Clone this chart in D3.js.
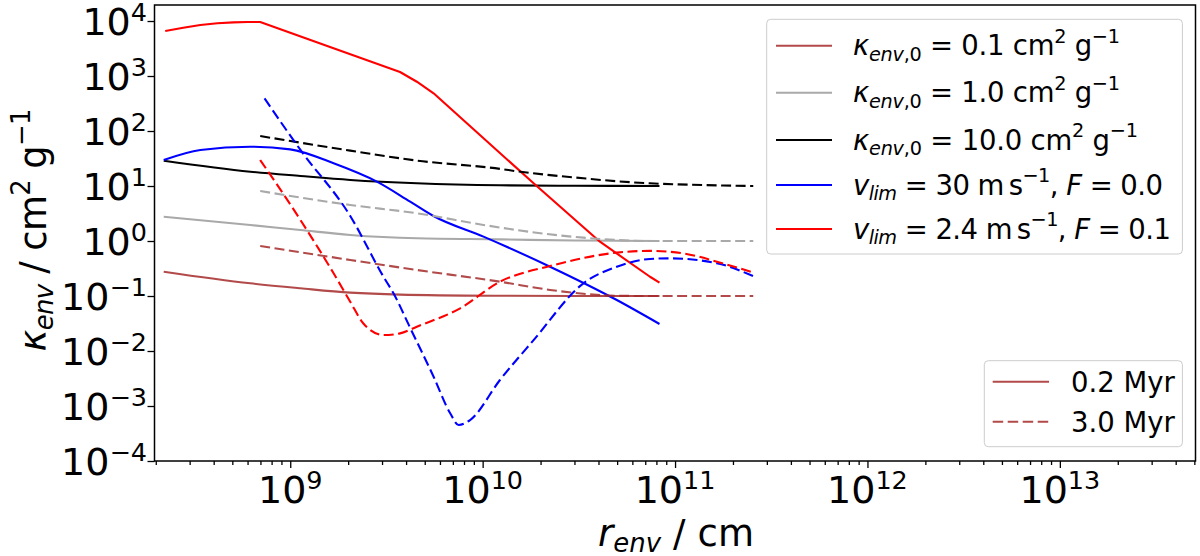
<!DOCTYPE html>
<html><head><meta charset="utf-8">
<script src="https://cdn.jsdelivr.net/npm/d3@7"></script>
<style>
body{margin:0;background:#fff}
svg{display:block}
text{font-family:"DejaVu Sans",sans-serif;fill:#000}
</style>
</head><body>
<svg id="chart" width="1200" height="556"></svg>
<script>
// ---------- data (r in cm, kappa in cm^2 g^-1) ----------
const xTickExponents = [9, 10, 11, 12, 13];
const yTickExponents = [-4, -3, -2, -1, 0, 1, 2, 3, 4];

// 0.2 Myr (solid)
const kappa01Young = [[2.2e8,0.277],[6.2e8,0.17],[1.13e9,0.138],[2.05e9,0.115],[3.72e9,0.106],[1.23e10,0.101],[3e10,0.1],[8.3e10,0.1]];
const kappa1Young  = [[2.2e8,2.77],[6.2e8,1.95],[1.13e9,1.58],[2.05e9,1.29],[4.55e9,1.12],[1.23e10,1.07],[3e10,1.02],[8.3e10,1.0]];
const kappa10Young = [[2.2e8,28.8],[6.2e8,18.2],[1.13e9,15.2],[2.05e9,12.9],[4.55e9,11.2],[1.23e10,10.3],[3e10,10.1],[8.3e10,10.0]];
const vlim30Young  = [[2.2e8,29.7],[3.41e8,45.2],[6.2e8,51.9],[1.0e9,46.4],[1.68e9,25.9],[2.82e9,12.0],[4.2e9,5.19],[5.55e9,2.85],[1.01e10,1.2],[2.24e10,0.341],[4.98e10,0.0845],[8.3e10,0.031]];
const vlim24Young  = [[2.24e8,6580],[2.78e8,7550],[3.41e8,8450],[4.18e8,9080],[5.07e8,9460],[5.98e8,9590],[6.98e8,9590],[1.61e9,3360],[3.72e9,1183],[4.55e9,787],[5.56e9,484],[8.28e9,138],[1.84e10,11.2],[4.07e10,0.97],[7.41e10,0.224],[8.3e10,0.175]];

// 3.0 Myr (dashed)
const kappa01Old = [[6.98e8,0.81],[2.05e9,0.452],[4.55e9,0.297],[1.23e10,0.182],[2.24e10,0.129],[3.34e10,0.11],[4.98e10,0.101],[7.41e10,0.1],[2.55e11,0.1]];
const kappa1Old  = [[6.98e8,8.1],[2.05e9,4.52],[4.55e9,3.19],[1.01e10,1.96],[1.51e10,1.58],[3.34e10,1.15],[7.41e10,1.0],[2.55e11,1.0]];
const kappa10Old = [[6.98e8,81],[2.05e9,44],[4.55e9,29],[1.23e10,20.5],[1.51e10,18.5],[3.34e10,13.8],[4.98e10,12.2],[7.41e10,11.2],[1.4e11,10.4],[2.55e11,10]];
const vlim30Old  = [[7.35e8,393],[1.13e9,45.2],[2.05e9,2.85],[3.05e9,0.225],[3.44e9,0.112],[4.21e9,0.0259],[5.56e9,3.41e-3],[6.78e9,7.36e-4],[7.5e9,4.52e-4],[8.6e9,5.56e-4],[1.23e10,2.97e-3],[1.84e10,0.0158],[3.34e10,0.170],[4.98e10,0.341],[7.41e10,0.471],[9.42e10,0.484],[1.65e11,0.394],[2.55e11,0.23]];
const vlim24Old  = [[6.98e8,29.7],[1.13e9,2.41],[1.68e9,0.259],[2.05e9,0.0787],[2.4e9,0.0316],[3.05e9,0.0195],[3.72e9,0.0209],[4.55e9,0.0277],[7.64e9,0.0597],[1.23e10,0.182],[2.24e10,0.351],[4.98e10,0.614],[7.41e10,0.661],[1.1e11,0.597],[1.65e11,0.421],[2.55e11,0.266]];

const seriesColors = ["#a52a2a","#a9a9a9","#000000","#0000ff","#ff0000"];
const youngSeries = [kappa01Young, kappa1Young, kappa10Young, vlim30Young, vlim24Young];
const oldSeries   = [kappa01Old, kappa1Old, kappa10Old, vlim30Old, vlim24Old];

// ---------- layout ----------
const L = 154.5, R = 1195.5, T = 5, B = 461;
const svg = d3.select("#chart");
const x = d3.scaleLog().domain([1.97e8, 5.07e13]).range([L, R]);
const y = d3.scaleLog().domain([1e-4, 1.955e4]).range([B, T]);

function rich(sel, parts, size, supShift, subShift, scr) {
  scr = scr || 0.7;
  let cur = 0;
  parts.forEach(p => {
    const target = p.k === 'sub' ? subShift * size : (p.k === 'sup' ? -supShift * size : 0);
    const ts = sel.append('tspan').attr('dy', (target - cur).toFixed(2)).text(p.t)
      .attr('font-size', p.k ? size * scr : size);
    if (p.i) ts.attr('font-style', 'italic');
    cur = target;
  });
  return sel;
}

// ---------- axes ticks ----------
const xMajor = xTickExponents.map(e => Math.pow(10, e));
const xMinor = [];
for (let e = 8; e <= 13; e++) for (let m = 2; m <= 9; m++) {
  const v = m * Math.pow(10, e);
  if (v > x.domain()[0] && v < x.domain()[1]) xMinor.push(v);
}
const yMajor = yTickExponents.map(e => Math.pow(10, e));

const gx = svg.append('g').attr('transform', `translate(0,${B})`);
gx.call(d3.axisBottom(x).tickValues(xMinor).tickSize(4).tickFormat(''));
gx.append('g').call(d3.axisBottom(x).tickValues(xMajor).tickSize(7).tickFormat(''));
const gy = svg.append('g').attr('transform', `translate(${L},0)`);
gy.call(d3.axisLeft(y).tickValues(yMajor).tickSize(7).tickFormat(''));
svg.selectAll('.domain').remove();
svg.selectAll('.tick line').attr('stroke', '#000').attr('stroke-width', 1.3);

const TF = 38;
xTickExponents.forEach(e => {
  const t = svg.append('text').attr('x', x(Math.pow(10, e))).attr('y', 503).attr('text-anchor', 'middle');
  rich(t, [{t:'10'}, {t:String(e), k:'sup'}], TF, 0.36, 0.2, 0.67);
});
yTickExponents.forEach(e => {
  const t = svg.append('text').attr('x', 147).attr('y', y(Math.pow(10, e)) + 14).attr('text-anchor', 'end');
  rich(t, [{t:'10'}, {t:(e < 0 ? '\u2212' + (-e) : String(e)), k:'sup'}], TF, 0.36, 0.2, 0.67);
});

// axis labels
const xl = svg.append('text').attr('x', 676).attr('y', 546).attr('text-anchor', 'middle')
  .attr('textLength', 156).attr('lengthAdjust', 'spacing');
rich(xl, [{t:'r', i:1}, {t:'env', k:'sub', i:1}, {t:' / cm'}], 37, 0.4, 0.17);
const yl = svg.append('text').attr('transform', `translate(46,230) rotate(-90)`).attr('text-anchor', 'middle')
  .attr('textLength', 243).attr('lengthAdjust', 'spacing');
rich(yl, [{t:'\u03ba', i:1}, {t:'env', k:'sub', i:1}, {t:' / cm'}, {t:'2', k:'sup'}, {t:' g'}, {t:'\u22121', k:'sup'}], 37, 0.42, 0.2);

// ---------- lines ----------
const smooth = d3.line().x(d => x(d[0])).y(d => y(d[1])).curve(d3.curveMonotoneX);
const straight = d3.line().x(d => x(d[0])).y(d => y(d[1]));
const DASH = '10,4.5';
const gl = svg.append('g');
youngSeries.forEach((s, i) => {
  gl.append('path').attr('d', (i === 4 ? straight : smooth)(s)).attr('fill', 'none').attr('stroke', seriesColors[i])
    .attr('stroke-width', 2.1).attr('stroke-opacity', i === 0 ? 0.85 : 1).attr('stroke-linejoin', 'round');
});
oldSeries.forEach((s, i) => {
  gl.append('path').attr('d', smooth(s)).attr('fill', 'none').attr('stroke', seriesColors[i])
    .attr('stroke-width', 2.1).attr('stroke-dasharray', DASH).attr('stroke-opacity', i === 0 ? 0.85 : 1);
});

// frame
svg.append('rect').attr('x', L).attr('y', T).attr('width', R - L).attr('height', B - T)
  .attr('fill', 'none').attr('stroke', '#000').attr('stroke-width', 1.5);

// ---------- legends ----------
const LF = 27.5;
const leg1 = svg.append('g');
leg1.append('rect').attr('x', 766.7).attr('y', 19.3).attr('width', 415.7).attr('height', 234.7).attr('rx', 4)
  .attr('fill', '#fff').attr('fill-opacity', 0.8).attr('stroke', '#cccccc').attr('stroke-width', 1);
const legRows = [45.7, 92.7, 140, 185, 229];
const legWidths = [267, 267, 285, 310, 318];
const legendLabels = [
  [{t:'\u03ba', i:1}, {t:'env', k:'sub', i:1}, {t:',0', k:'sub'}, {t:' = 0.1 cm'}, {t:'2', k:'sup'}, {t:' g'}, {t:'\u22121', k:'sup'}],
  [{t:'\u03ba', i:1}, {t:'env', k:'sub', i:1}, {t:',0', k:'sub'}, {t:' = 1.0 cm'}, {t:'2', k:'sup'}, {t:' g'}, {t:'\u22121', k:'sup'}],
  [{t:'\u03ba', i:1}, {t:'env', k:'sub', i:1}, {t:',0', k:'sub'}, {t:' = 10.0 cm'}, {t:'2', k:'sup'}, {t:' g'}, {t:'\u22121', k:'sup'}],
  [{t:'v', i:1}, {t:'lim', k:'sub', i:1}, {t:' = 30 m\u2009s'}, {t:'\u22121', k:'sup'}, {t:', '}, {t:'F', i:1}, {t:' = 0.0'}],
  [{t:'v', i:1}, {t:'lim', k:'sub', i:1}, {t:' = 2.4 m\u2009s'}, {t:'\u22121', k:'sup'}, {t:', '}, {t:'F', i:1}, {t:' = 0.1'}]
];
legendLabels.forEach((parts, i) => {
  leg1.append('line').attr('x1', 776).attr('x2', 832).attr('y1', legRows[i]).attr('y2', legRows[i])
    .attr('stroke', seriesColors[i]).attr('stroke-width', 2.1).attr('stroke-opacity', i === 0 ? 0.85 : 1);
  const t = leg1.append('text').attr('x', 853).attr('y', legRows[i] + 9.5)
    .attr('textLength', legWidths[i]).attr('lengthAdjust', 'spacing');
  rich(t, parts, LF, 0.46, 0.2);
});

const ageLabels = ['0.2 Myr', '3.0 Myr'];
const ageDash = [null, '10.5,4.5'];
const leg2 = svg.append('g');
leg2.append('rect').attr('x', 984.3).attr('y', 360.7).attr('width', 198.1).attr('height', 86).attr('rx', 4)
  .attr('fill', '#fff').attr('fill-opacity', 0.8).attr('stroke', '#cccccc').attr('stroke-width', 1);
const ageRows = [381.7, 421.7];
ageLabels.forEach((lab, i) => {
  const ln = leg2.append('line').attr('x1', 992.7).attr('x2', 1049).attr('y1', ageRows[i]).attr('y2', ageRows[i])
    .attr('stroke', seriesColors[0]).attr('stroke-width', 2.1).attr('stroke-opacity', 0.85);
  if (ageDash[i]) ln.attr('stroke-dasharray', ageDash[i]);
  leg2.append('text').attr('x', 1071).attr('y', ageRows[i] + 10).attr('font-size', LF).text(lab);
});
</script>
</body></html>
